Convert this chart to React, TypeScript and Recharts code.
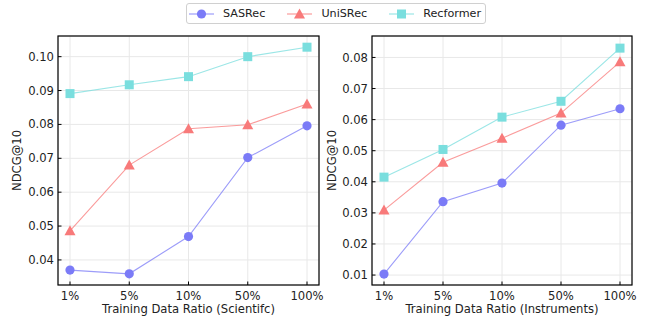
import { CartesianGrid, Label, Line, LineChart, XAxis, YAxis } from 'recharts'

const RATIOS = ['1%', '5%', '10%', '50%', '100%']

const SCI_SASREC = [0.037, 0.0359, 0.0469, 0.0702, 0.0796]
const SCI_UNISREC = [0.0486, 0.068, 0.0787, 0.0799, 0.086]
const SCI_RECFORMER = [0.0891, 0.0917, 0.0941, 0.1, 0.1028]

const INS_SASREC = [0.0103, 0.0336, 0.0396, 0.0582, 0.0635]
const INS_UNISREC = [0.0309, 0.0463, 0.054, 0.0621, 0.0786]
const INS_RECFORMER = [0.0415, 0.0504, 0.0608, 0.0659, 0.083]

const SCI_TICKS = [0.04, 0.05, 0.06, 0.07, 0.08, 0.09, 0.1]
const INS_TICKS = [0.01, 0.02, 0.03, 0.04, 0.05, 0.06, 0.07, 0.08]

const SERIES = [
  { key: 'sasrec', label: 'SASRec', color: '#7b7bf7', shape: 'circle' },
  { key: 'unisrec', label: 'UniSRec', color: '#f87a7a', shape: 'triangle' },
  { key: 'recformer', label: 'Recformer', color: '#7adede', shape: 'square' },
]

const FONT = '"DejaVu Sans", sans-serif'
const FS = 11.6
const W = 326
const H = 319
const TOP = 36
const BOTTOM = 285

function buildRows(a: number[], b: number[], c: number[]) {
  return RATIOS.map((ratio, i) => ({ ratio, sasrec: a[i], unisrec: b[i], recformer: c[i] }))
}

function Marker({ shape, color, cx, cy }: { shape: string; color: string; cx: number; cy: number }) {
  if (shape === 'circle') return <circle cx={cx} cy={cy} r={4.6} fill={color} />
  if (shape === 'square') return <rect x={cx - 4.5} y={cy - 4.5} width={9} height={9} fill={color} />
  return <polygon points={`${cx},${cy - 5.5} ${cx - 5.5},${cy + 4.5} ${cx + 5.5},${cy + 4.5}`} fill={color} />
}

function makeDot(shape: string, color: string) {
  return function Dot(props: { cx?: number; cy?: number; index?: number }) {
    const { cx = 0, cy = 0, index = 0 } = props
    return <Marker key={index} shape={shape} color={color} cx={cx} cy={cy} />
  }
}

function makeYTick(plotLeft: number) {
  return function YTick(props: { y?: number; payload?: { value: number } }) {
    const { y = 0, payload } = props
    return (
      <g>
        <line x1={plotLeft} x2={plotLeft + 3.5} y1={y} y2={y} stroke="#000" strokeWidth={1} />
        <text x={plotLeft - 4} y={y} dy="0.35em" textAnchor="end" fontSize={FS} fill="#222" fontFamily={FONT}>
          {payload ? payload.value.toFixed(2) : ''}
        </text>
      </g>
    )
  }
}

function XTick(props: { x?: number; payload?: { value: string } }) {
  const { x = 0, payload } = props
  return (
    <g>
      <line x1={x} x2={x} y1={BOTTOM} y2={BOTTOM - 3.5} stroke="#000" strokeWidth={1} />
      <text x={x} y={BOTTOM + 14.5} textAnchor="middle" fontSize={FS} fill="#222" fontFamily={FONT}>
        {payload?.value}
      </text>
    </g>
  )
}

interface PanelProps {
  rows: ReturnType<typeof buildRows>
  domain: [number, number]
  ticks: number[]
  plotLeft: number
  right: number
  xTitle: string
  yTitleX: number
}

function Panel({ rows, domain, ticks, plotLeft, right, xTitle, yTitleX }: PanelProps) {
  const plotW = W - right - plotLeft
  return (
    <LineChart width={W} height={H} data={rows} margin={{ top: TOP, right, bottom: 4, left: 0 }}>
      <CartesianGrid stroke="#e8e8e8" strokeWidth={1} />
      <XAxis
        dataKey="ratio"
        height={30}
        padding={{ left: 12, right: 12 }}
        axisLine={false}
        tickLine={false}
        tick={<XTick />}
        interval={0}
      >
        <Label
          content={() => (
            <text x={plotLeft + plotW / 2} y={313} textAnchor="middle" fontSize={FS} fill="#222" fontFamily={FONT}>
              {xTitle}
            </text>
          )}
        />
      </XAxis>
      <YAxis
        type="number"
        domain={domain}
        ticks={ticks}
        width={plotLeft}
        axisLine={false}
        tickLine={false}
        tick={makeYTick(plotLeft)}
        allowDataOverflow
      >
        <Label
          content={() => (
            <g>
              <rect x={plotLeft} y={TOP} width={plotW} height={BOTTOM - TOP} fill="none" stroke="#000" strokeWidth={1.2} />
              <text
                x={yTitleX}
                y={(TOP + BOTTOM) / 2}
                transform={`rotate(-90 ${yTitleX} ${(TOP + BOTTOM) / 2})`}
                textAnchor="middle"
                dy="0.35em"
                fontSize={FS}
                fill="#222"
                fontFamily={FONT}
              >
                NDCG@10
              </text>
            </g>
          )}
        />
      </YAxis>
      {SERIES.map((s) => (
        <Line
          key={s.key}
          dataKey={s.key}
          stroke={s.color}
          strokeOpacity={0.75}
          strokeWidth={1.1}
          dot={makeDot(s.shape, s.color)}
          activeDot={false}
          isAnimationActive={false}
        />
      ))}
    </LineChart>
  )
}

function LegendBox() {
  return (
    <div
      style={{
        position: 'absolute',
        left: 186,
        top: 3,
        width: 298,
        height: 19,
        border: '1px solid #d0d0d0',
        borderRadius: 3,
        background: '#fff',
        display: 'flex',
        alignItems: 'center',
        fontFamily: FONT,
        fontSize: 11.2,
        color: '#222',
        boxSizing: 'content-box',
      }}
    >
      {SERIES.map((s, i) => (
        <div key={s.key} style={{ display: 'flex', alignItems: 'center', marginLeft: i === 0 ? 2 : 22 }}>
          <svg width={25} height={12}>
            <line x1={0} x2={25} y1={6} y2={6} stroke={s.color} strokeOpacity={0.75} strokeWidth={1.2} />
            <Marker shape={s.shape} color={s.color} cx={12.5} cy={6} />
          </svg>
          <span style={{ marginLeft: 9 }}>{s.label}</span>
        </div>
      ))}
    </div>
  )
}

export default function App() {
  const sciRows = buildRows(SCI_SASREC, SCI_UNISREC, SCI_RECFORMER)
  const insRows = buildRows(INS_SASREC, INS_UNISREC, INS_RECFORMER)
  return (
    <div style={{ position: 'absolute', left: 0, top: 0, width: 652, height: 319, background: '#fff' }}>
      <div style={{ position: 'absolute', left: 0, top: 0 }}>
        <Panel
          rows={sciRows}
          domain={[0.0326, 0.1061]}
          ticks={SCI_TICKS}
          plotLeft={58}
          right={7}
          xTitle="Training Data Ratio (Scientifc)"
          yTitleX={17}
        />
      </div>
      <div style={{ position: 'absolute', left: 326, top: 0 }}>
        <Panel
          rows={insRows}
          domain={[0.0068, 0.0869]}
          ticks={INS_TICKS}
          plotLeft={46}
          right={20}
          xTitle="Training Data Ratio (Instruments)"
          yTitleX={6}
        />
      </div>
      <LegendBox />
    </div>
  )
}
